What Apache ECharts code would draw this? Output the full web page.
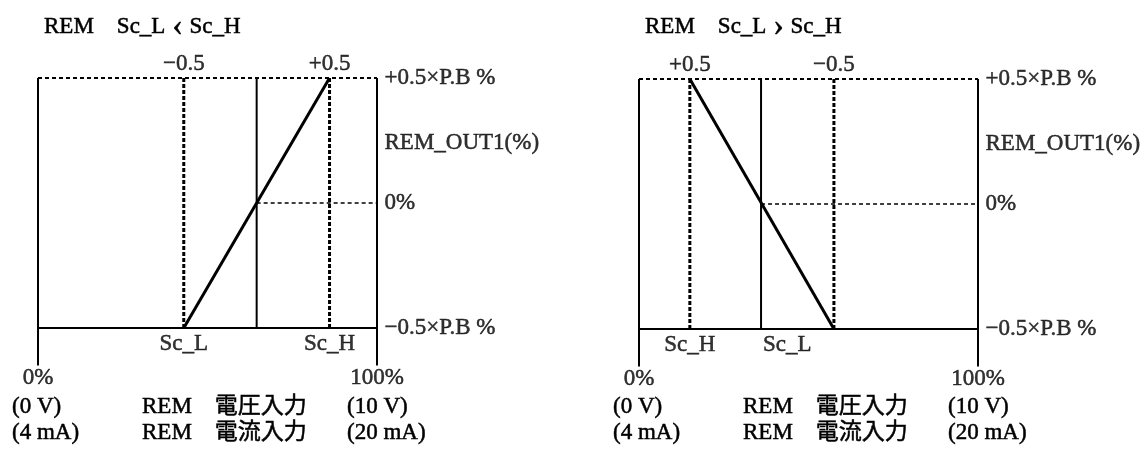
<!DOCTYPE html>
<html>
<head>
<meta charset="utf-8">
<title>REM 入力 - REM_OUT1</title>
<script src="https://cdn.jsdelivr.net/npm/echarts@6/dist/echarts.min.js"></script>
<style>
  html, body { margin: 0; padding: 0; background: #fff; }
  #chart { width: 1145px; height: 450px; }
</style>
</head>
<body>
<div id="chart"></div>
<script>
// left panel: Sc_L < Sc_H, right panel: Sc_L > Sc_H
const panelTitles = ['REM　Sc_L ‹ Sc_H', 'REM　Sc_L › Sc_H']
const scL = [43, 57.5]        // Sc_L, % of input span
const scH = [86, 15]          // Sc_H
const midInput = [64.5, 36]   // input where REM_OUT1 = 0%
const inputRange = [0, 100]
const outLow = -0.5
const outHigh = 0.5
const outZero = 0
const tickEnd = -0.65         // bottom end of the 0% / 100% ticks
const topTickText = ['−0.5', '+0.5']   // over Sc_L, Sc_H
const scText = ['Sc_L', 'Sc_H']
const outLabels = ['+0.5×P.B %', 'REM_OUT1(%)', '0%', '−0.5×P.B %']
const outLabelValues = [0.5, 0.24, 0, -0.5]
const inputEndLabels = ['0%', '100%']
const captionRows = [
  ['(0 V)', 'REM　電圧入力', '(10 V)'],
  ['(4 mA)', 'REM　電流入力', '(20 mA)']
]

const FONT = "'Liberation Serif', 'Noto Sans CJK JP', serif"
const INK = '#000'
const FS = 23
const grids = [
  { left: 38, top: 78, width: 339, height: 287.5 },
  { left: 639, top: 79, width: 339, height: 287.5 }
]
const captionCols = [-26, 104, 309]
const captionY = [407, 433]

function seg(gi, pts, width, dash) {
  return {
    type: 'line',
    xAxisIndex: gi,
    yAxisIndex: gi,
    data: pts,
    symbol: 'none',
    silent: true,
    clip: false,
    lineStyle: { color: INK, width: width, type: dash || 'solid', cap: 'butt' }
  }
}

function lbl(x, y, text, pos, dist, extra) {
  return {
    name: text,
    value: [x, y],
    label: Object.assign({ position: pos, distance: dist }, extra || {})
  }
}

const series = []
const titles = []
const graphics = []

for (let i = 0; i < 2; i++) {
  const x0 = inputRange[0]
  const x1 = inputRange[1]
  // frame
  series.push(seg(i, [[x0, outHigh], [x0, tickEnd]], 2))
  series.push(seg(i, [[x1, outHigh], [x1, tickEnd]], 2))
  series.push(seg(i, [[x0, outLow], [x1, outLow]], 2))
  series.push(seg(i, [[x0, outHigh], [x1, outHigh]], 2, [4, 3]))
  // centre of the input span and 0% line
  series.push(seg(i, [[midInput[i], outHigh], [midInput[i], outLow]], 2))
  series.push(seg(i, [[midInput[i], outZero], [x1, outZero]], 1.5, [4, 3]))
  // Sc_L / Sc_H guides
  series.push(seg(i, [[scL[i], outHigh], [scL[i], outLow]], 3, [4, 2]))
  series.push(seg(i, [[scH[i], outHigh], [scH[i], outLow]], 3, [4, 2]))
  // REM_OUT1 characteristic
  series.push(seg(i, [[scL[i], outLow], [scH[i], outHigh]], 3))

  const items = [
    lbl(scL[i], outHigh, topTickText[0], 'top', 2),
    lbl(scH[i], outHigh, topTickText[1], 'top', 2),
    lbl(scH[i], outLow, scText[1], 'bottom', 4),
    lbl(x0, tickEnd, inputEndLabels[0], 'bottom', 0),
    lbl(x1, tickEnd, inputEndLabels[1], 'bottom', 0)
  ]
  if (i === 0) {
    items.push(lbl(scL[i], outLow, scText[0], 'bottom', 4))
  } else {
    // in the falling case Sc_L is written just right of the centre line
    items.push(lbl(midInput[i], outLow, scText[0], 'bottom', 4, { align: 'left', offset: [2, 0] }))
  }
  outLabels.forEach(function (t, k) {
    items.push(lbl(x1, outLabelValues[k], t, 'right', 7))
  })
  series.push({
    type: 'scatter',
    xAxisIndex: i,
    yAxisIndex: i,
    symbolSize: 1,
    clip: false,
    silent: true,
    itemStyle: { color: 'rgba(0,0,0,0)' },
    label: {
      show: true,
      formatter: '{b}',
      color: INK,
      fontSize: FS,
      fontFamily: FONT,
      textBorderColor: INK,
      textBorderWidth: 0.5
    },
    data: items
  })

  titles.push({
    text: panelTitles[i].replace(/([‹›])/, '{b|$1}'),
    left: grids[i].left + 1,
    top: 6,
    textStyle: {
      fontSize: FS, fontWeight: 'normal', fontFamily: FONT, color: INK,
      textBorderColor: INK, textBorderWidth: 0.5,
      rich: {
        b: { fontSize: 32, fontFamily: FONT, color: INK, padding: [0, 1, 0, 1] }
      }
    }
  })

  captionRows.forEach(function (row, r) {
    row.forEach(function (t, c) {
      graphics.push({
        type: 'text',
        x: grids[i].left + captionCols[c],
        y: captionY[r],
        silent: true,
        style: {
          text: t,
          fontSize: FS,
          fontFamily: FONT,
          fill: INK,
          stroke: INK,
          lineWidth: 0.5,
          verticalAlign: 'middle'
        }
      })
    })
  })
}

const axisX = grids.map(function (g, i) {
  return { type: 'value', gridIndex: i, min: inputRange[0], max: inputRange[1], show: false }
})
const axisY = grids.map(function (g, i) {
  return { type: 'value', gridIndex: i, min: tickEnd, max: outHigh, show: false }
})

const chart = echarts.init(document.getElementById('chart'))
chart.setOption({
  animation: false,
  backgroundColor: '#fff',
  title: titles,
  grid: grids,
  xAxis: axisX,
  yAxis: axisY,
  series: series,
  graphic: graphics
})
</script>
</body>
</html>
